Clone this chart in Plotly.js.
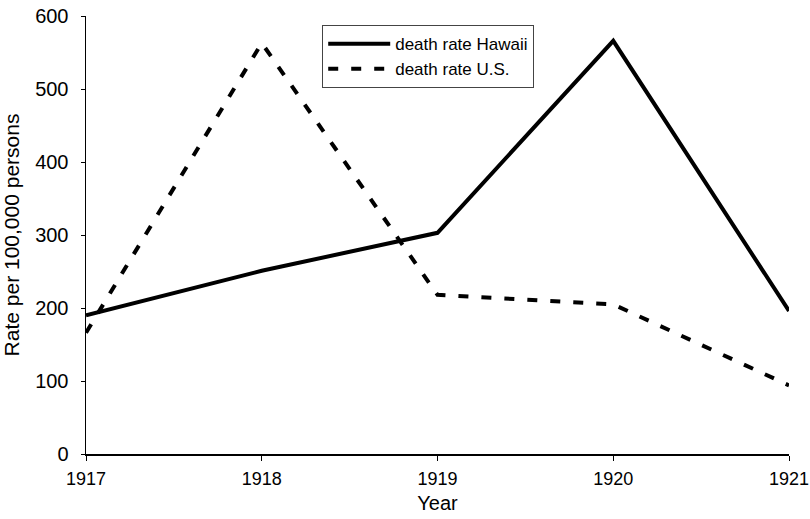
<!DOCTYPE html>
<html>
<head>
<meta charset="utf-8">
<script src="https://cdn.plot.ly/plotly-3.0.1.min.js"></script>
<style>html,body{margin:0;padding:0;background:#fff;}#chart{width:810px;height:519px;}</style>
</head>
<body>
<div id="chart"></div>
<script>
const years = [1917, 1918, 1919, 1920, 1921];
const deathRateHawaii = [190, 251, 303, 566, 196];
const deathRateUS = [166, 563, 218, 205, 94];
const yTicks = [0, 100, 200, 300, 400, 500, 600];

const traces = [
  {x: years, y: deathRateHawaii, type: 'scatter', mode: 'lines', name: 'death rate Hawaii',
   line: {color: '#000', width: 4}},
  {x: years, y: deathRateUS, type: 'scatter', mode: 'lines', name: 'death rate U.S.',
   line: {color: '#000', width: 4, dash: '10px,13px'}}
];

const layout = {
  width: 810, height: 519,
  margin: {l: 86, r: 21, t: 16, b: 65},
  paper_bgcolor: '#fff', plot_bgcolor: '#fff',
  font: {family: 'Liberation Sans, Arial, sans-serif', color: '#000', size: 20},
  showlegend: true,
  legend: {x: 0.336, y: 0.979, xanchor: 'left', yanchor: 'top', bgcolor: '#fff',
           bordercolor: '#444', borderwidth: 1, font: {size: 17}, itemwidth: 62,
           tracegroupgap: 0},
  xaxis: {range: [1917, 1921], tickvals: years, ticktext: years.map(String),
          showgrid: false, zeroline: false, showline: true, linecolor: '#000', linewidth: 1.5,
          ticks: 'outside', ticklen: 5, tickcolor: '#000', tickfont: {size: 18},
          ticklabeloverflow: 'allow', ticklabelstandoff: 3,
          title: {text: 'Year', font: {size: 20}, standoff: 8}},
  yaxis: {range: [0, 600], tickvals: yTicks, showgrid: false, zeroline: false,
          showline: true, linecolor: '#000', linewidth: 1.5,
          ticks: 'outside', ticklen: 4, tickcolor: '#000', ticklabelstandoff: 8,
          tickfont: {size: 20}, ticklabeloverflow: 'allow',
          title: {text: 'Rate per 100,000 persons', font: {size: 21}, standoff: 10}}
};

Plotly.newPlot('chart', traces, layout, {displayModeBar: false, staticPlot: true});
</script>
</body>
</html>
